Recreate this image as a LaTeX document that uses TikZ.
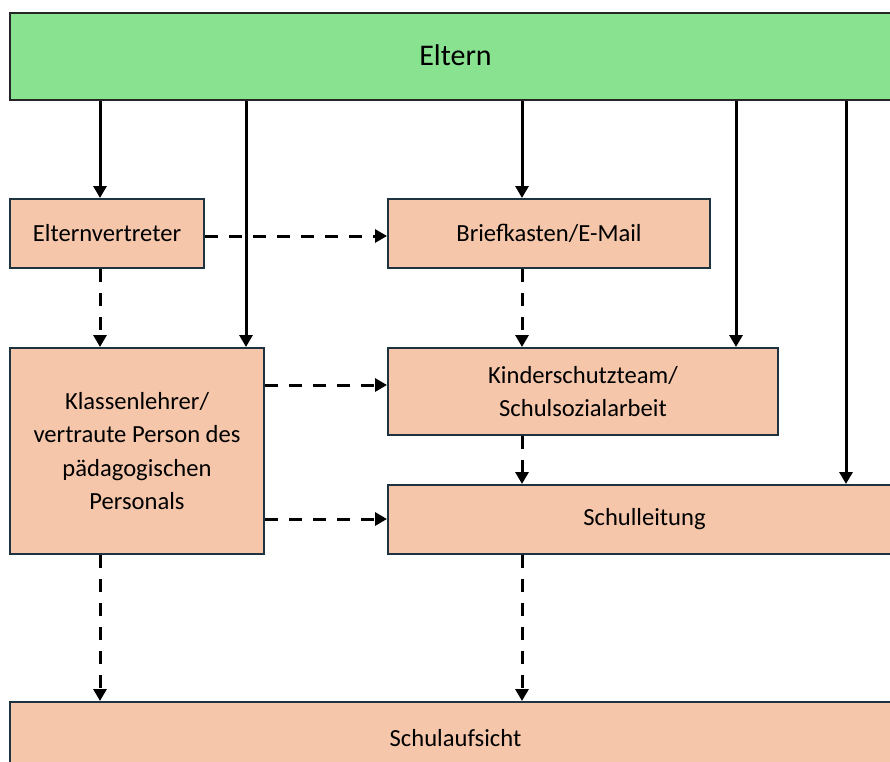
\documentclass[tikz,border=0pt]{standalone}
\usepackage{fontspec}
\setmainfont{Carlito}
\usetikzlibrary{arrows.meta,positioning,calc}
\definecolor{boxfill}{HTML}{F5C6AA}
\definecolor{greenfill}{HTML}{88E290}
\definecolor{boxline}{HTML}{1E3340}
\tikzset{
  box/.style={draw=boxline, line width=2pt, fill=boxfill, anchor=north west, inner sep=0pt, align=center, font=\fontsize{24.6}{33.5}\selectfont},
  solidarrow/.style={line width=3pt, -{Triangle[length=12pt,width=13pt]}},
  dasharrow/.style={line width=3pt, dash pattern=on 13pt off 11pt, -{Triangle[length=12pt,width=13pt]}},
}
\begin{document}
\begin{tikzpicture}[x=1pt,y=-1pt]
\useasboundingbox (0,0) rectangle (890,761);
\fill[white] (0,0) rectangle (890,761);
\node[box, draw=black!85, fill=greenfill, minimum width=891pt, minimum height=87pt, font=\fontsize{30}{36}\selectfont] (eltern) at (9,12) {\raisebox{2pt}{Eltern}};
\node[box, minimum width=194pt, minimum height=69pt] (ev) at (9,198) {Elternvertreter};
\node[box, minimum width=322pt, minimum height=69pt] (bk) at (387,198) {Briefkasten/E-Mail};
\node[box, minimum width=254pt, minimum height=206pt] (kl) at (9,347) {Klassenlehrer/\\vertraute Person des\\pädagogischen\\Personals};
\node[box, minimum width=390pt, minimum height=87pt] (ks) at (387,347) {Kinderschutzteam/\\Schulsozialarbeit};
\node[box, minimum width=513pt, minimum height=69pt] (sl) at (387,484) {Schulleitung};
\node[box, minimum width=891pt, minimum height=72pt] (sa) at (9,701) {Schulaufsicht};
\coordinate (xa) at (100,0);
\coordinate (xb) at (246,0);
\coordinate (xc) at (522,0);
\coordinate (xd) at (736,0);
\coordinate (xe) at (846,0);
\coordinate (ya) at (0,236);
\coordinate (yb) at (0,385);
\coordinate (yc) at (0,519);
% solid arrows from Eltern
\draw[solidarrow] (xa |- eltern.south) -- (xa |- ev.north);
\draw[solidarrow] (xb |- eltern.south) -- (xb |- kl.north);
\draw[solidarrow] (xc |- eltern.south) -- (xc |- bk.north);
\draw[solidarrow] (xd |- eltern.south) -- (xd |- ks.north);
\draw[solidarrow] (xe |- eltern.south) -- (xe |- sl.north);
% dashed arrows
\draw[dasharrow] (ev.east |- ya) -- (bk.west |- ya);
\draw[dasharrow] (xa |- ev.south) -- (xa |- kl.north);
\draw[dasharrow] (xc |- bk.south) -- (xc |- ks.north);
\draw[dasharrow] (kl.east |- yb) -- (ks.west |- yb);
\draw[dasharrow] (xc |- ks.south) -- (xc |- sl.north);
\draw[dasharrow] (kl.east |- yc) -- (sl.west |- yc);
\draw[dasharrow] (xa |- kl.south) -- (xa |- sa.north);
\draw[dasharrow] (xc |- sl.south) -- (xc |- sa.north);
\end{tikzpicture}
\end{document}
